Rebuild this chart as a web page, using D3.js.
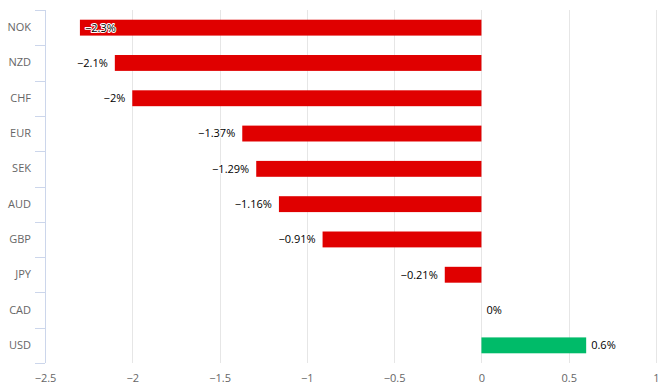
<!DOCTYPE html>
<html>
<head>
<meta charset="utf-8">
<script src="https://cdn.jsdelivr.net/npm/d3@7"></script>
<style>
  html, body { margin: 0; padding: 0; background: #fff; }
  svg { display: block; font-family: "Open Sans", "DejaVu Sans", sans-serif; }
</style>
</head>
<body>
<svg id="chart" width="665" height="392"></svg>
<script>
const categories = ["NOK", "NZD", "CHF", "EUR", "SEK", "AUD", "GBP", "JPY", "CAD", "USD"];
const values = [-2.3, -2.1, -2, -1.37, -1.29, -1.16, -0.91, -0.21, 0, 0.6];
const xTicks = [-2.5, -2, -1.5, -1, -0.5, 0, 0.5, 1];

const W = 665, H = 392;
const margin = { left: 45, right: 9, top: 10, bottom: 29 };
const svg = d3.select("#chart");
const fmt = v => String(v).replace("-", "\u2212");

const x = d3.scaleLinear().domain([-2.5, 1]).range([margin.left, W - margin.right]);
const y = d3.scaleBand().domain(categories).range([margin.top, H - margin.bottom]).paddingInner(0.55).paddingOuter(0.275);
const band = d3.scaleBand().domain(categories).range([margin.top, H - margin.bottom]);

// gridlines
svg.append("g").selectAll("line").data(xTicks.filter(t => t !== -2.5)).join("line")
  .attr("x1", d => Math.round(x(d)) + 0.5).attr("x2", d => Math.round(x(d)) + 0.5)
  .attr("y1", margin.top).attr("y2", H - margin.bottom)
  .attr("stroke", "#e6e6e6").attr("stroke-width", 1);

// x axis labels
const xAxis = d3.axisBottom(x).tickValues(xTicks).tickSize(0).tickPadding(0).tickFormat(fmt);
const gx = svg.append("g").attr("transform", `translate(0,${H - margin.bottom})`).call(xAxis);
gx.select(".domain").remove();
gx.selectAll("text").attr("fill", "#666").attr("font-size", 11).attr("dy", "1.05em").attr("y", 7)
  .style("font-family", "'Open Sans', sans-serif");

// y axis
const yAxis = d3.axisLeft(band).tickSize(0).tickPadding(14);
const gy = svg.append("g").attr("transform", `translate(${margin.left},0)`).call(yAxis);
gy.select(".domain").remove();
gy.selectAll("text").attr("fill", "#666").attr("font-size", 11).style("font-family", "'Open Sans', sans-serif");
const bounds = categories.map(c => band(c)).concat([band.range()[1]]);
svg.append("g").selectAll("line").data(bounds).join("line")
  .attr("x1", margin.left - 10).attr("x2", margin.left)
  .attr("y1", d => Math.round(d) + 0.5).attr("y2", d => Math.round(d) + 0.5)
  .attr("stroke", "#ccd6eb");
svg.append("line").attr("x1", margin.left + 0.5).attr("x2", margin.left + 0.5)
  .attr("y1", margin.top).attr("y2", H - margin.bottom).attr("stroke", "#ccd6eb");

// bars
const data = categories.map((c, i) => ({ c, v: values[i] }));
svg.append("g").selectAll("rect").data(data).join("rect")
  .attr("x", d => x(Math.min(0, d.v)))
  .attr("width", d => Math.abs(x(d.v) - x(0)))
  .attr("y", d => y(d.c))
  .attr("height", y.bandwidth())
  .attr("fill", d => d.v >= 0 ? "#00bb69" : "#e00000");

// data labels
const fits = d => x(d.v) - 7 >= margin.left + 40;
svg.append("g").selectAll("text").data(data).join("text")
  .attr("x", d => {
    if (d.v < 0) return fits(d) ? x(d.v) - 7 : x(d.v) + 5;
    return x(d.v) + 5;
  })
  .attr("text-anchor", d => (d.v < 0 && fits(d)) ? "end" : "start")
  .attr("y", d => y(d.c) + y.bandwidth() / 2)
  .attr("dy", "0.35em")
  .attr("font-size", 11)
  .attr("fill", "#000")
  .attr("stroke", "#fff").attr("stroke-width", 2).attr("stroke-linejoin", "round")
  .style("paint-order", "stroke")
  .text(d => fmt(d.v) + "%");
</script>
</body>
</html>
